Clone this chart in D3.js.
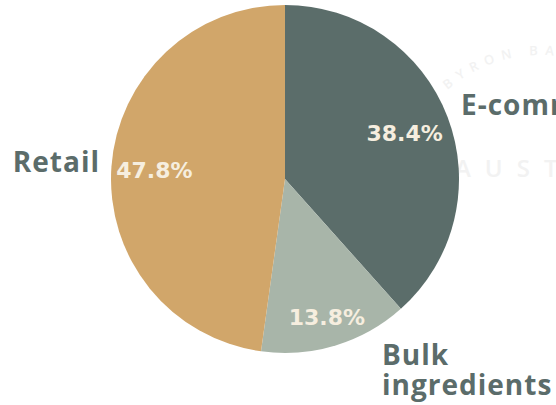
<!DOCTYPE html>
<html>
<head>
<meta charset="utf-8">
<script src="https://cdn.jsdelivr.net/npm/d3@7"></script>
<style>
  body { margin: 0; background: #fff; overflow: hidden; }
  svg { display: block; }
  .cat { font-family: "Open Sans", sans-serif; font-weight: 700; fill: #5b6c6a; }
  .pct { font-family: "DejaVu Sans", sans-serif; font-weight: 700; fill: #f6eedf; }
  .wm { font-family: "Open Sans", sans-serif; font-weight: 600; fill: #f2f2f2; }
</style>
</head>
<body>
<svg id="chart" width="556" height="405"></svg>
<script>
// data
var categories = ["E-commerce", "Bulk ingredients", "Retail"]
var shares = [38.4, 13.8, 47.8]
var colors = ["#5b6d6a", "#a8b5a9", "#d1a66a"]

var svg = d3.select("#chart")
var cx = 285, cy = 179, R = 174

// faint watermark behind the chart
var wmPath = d3.path()
wmPath.arc(540, 195, 140, Math.PI * 1.27, Math.PI * 1.7)
svg.append("path").attr("id", "wmArc").attr("d", wmPath.toString()).attr("fill", "none")
svg.append("text").attr("class", "wm").attr("font-size", 13).attr("letter-spacing", 7)
  .append("textPath").attr("href", "#wmArc").text("BYRON BAY")
svg.append("text").attr("class", "wm").attr("font-size", 24).attr("font-weight", 400)
  .attr("letter-spacing", 14).attr("x", 455).attr("y", 177).text("AUSTRALIA")

var pie = d3.pie().sort(null).value(function(d) { return d })
var arcs = pie(shares)

var arc = d3.arc().innerRadius(0).outerRadius(R)

var g = svg.append("g").attr("transform", "translate(" + cx + "," + cy + ")")

g.selectAll("path")
  .data(arcs)
  .enter()
  .append("path")
  .attr("d", arc)
  .attr("fill", function(d, i) { return colors[i] })

// percentage labels inside
var pctRadius = [128, 144, 131]
g.selectAll("text.pct")
  .data(arcs)
  .enter()
  .append("text")
  .attr("class", "pct")
  .attr("font-size", 22)
  .attr("text-anchor", "middle")
  .attr("dy", "0.36em")
  .attr("x", function(d, i) { var a = (d.startAngle + d.endAngle) / 2; return pctRadius[i] * Math.sin(a) })
  .attr("y", function(d, i) { var a = (d.startAngle + d.endAngle) / 2; return -pctRadius[i] * Math.cos(a) })
  .text(function(d) { return d.data.toFixed(1) + "%" })

// category labels outside
var outer = [
  { x: 176, y: -74, anchor: "start" },
  { x: 97, y: 176, anchor: "start" },
  { x: -185, y: -17, anchor: "end" }
]
arcs.forEach(function(d, i) {
  var o = outer[i]
  var lines = categories[i] == "Bulk ingredients" ? ["Bulk", "ingredients"] : [categories[i]]
  var t = g.append("text")
    .attr("class", "cat")
    .attr("font-size", 28)
    .attr("letter-spacing", 1)
    .attr("text-anchor", o.anchor)
    .attr("x", o.x)
    .attr("y", o.y)
  lines.forEach(function(l, j) {
    t.append("tspan").attr("x", o.x).attr("dy", j == 0 ? "0.36em" : 30).text(l)
  })
})
</script>
</body>
</html>
